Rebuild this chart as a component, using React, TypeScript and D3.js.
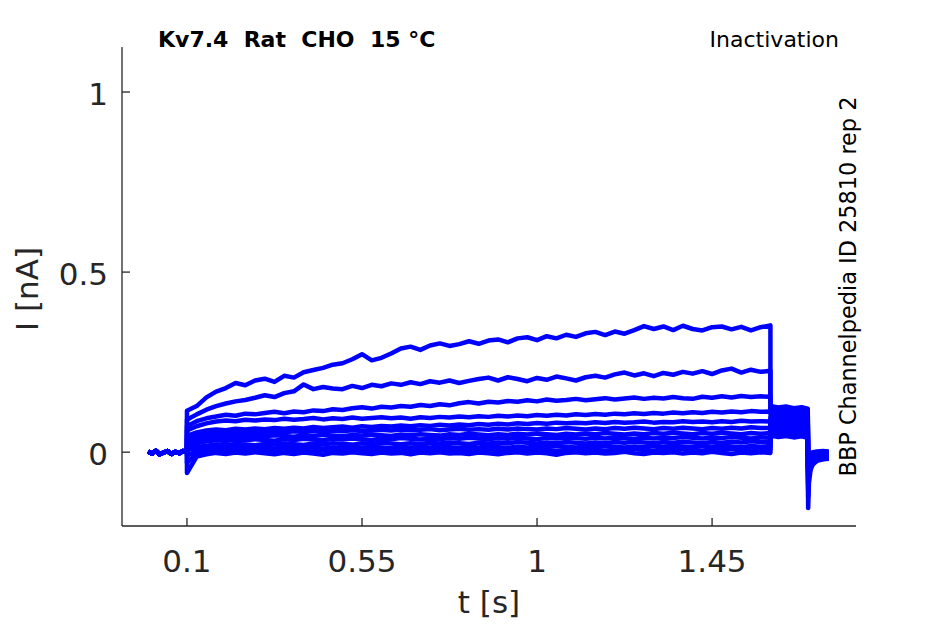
import React from 'react';
import * as d3 from 'd3';

// sampling times [s]
const baselineTimes = [0, 0.01, 0.02, 0.03, 0.04, 0.05, 0.06, 0.07, 0.08, 0.09, 0.1];
const pulseTimes = [
  0.1, 0.125, 0.15, 0.175, 0.2, 0.225, 0.25, 0.275, 0.3, 0.325,
  0.35, 0.375, 0.4, 0.425, 0.45, 0.475, 0.5, 0.525, 0.55, 0.575,
  0.6, 0.625, 0.65, 0.675, 0.7, 0.725, 0.75, 0.775, 0.8, 0.825,
  0.85, 0.875, 0.9, 0.925, 0.95, 0.975, 1.0, 1.025, 1.05, 1.075,
  1.1, 1.125, 1.15, 1.175, 1.2, 1.225, 1.25, 1.275, 1.3, 1.325,
  1.35, 1.375, 1.4, 1.425, 1.45, 1.475, 1.5, 1.525, 1.55, 1.575,
  1.6,
];
const tailTimes = [1.6, 1.62, 1.64, 1.66, 1.68, 1.696, 1.697, 1.699, 1.703, 1.709, 1.72, 1.735, 1.75];

// holding current before the step [nA]
const baselineCurrent = [0.002, -0.004, 0.004, -0.006, -0.001, 0.003, -0.005, 0.001, -0.003, 0.003, 0.0];

// current during the 1.5 s step, one array per sweep [nA]
const sweep1 = [
  0.115, 0.128, 0.152, 0.168, 0.178, 0.192, 0.186, 0.199, 0.204, 0.195,
  0.212, 0.207, 0.222, 0.228, 0.234, 0.243, 0.247, 0.258, 0.272, 0.255,
  0.262, 0.274, 0.288, 0.293, 0.284, 0.296, 0.302, 0.295, 0.3, 0.308,
  0.301, 0.31, 0.313, 0.305, 0.316, 0.319, 0.311, 0.322, 0.316, 0.326,
  0.32, 0.33, 0.334, 0.325, 0.335, 0.329, 0.339, 0.35, 0.342, 0.349,
  0.339, 0.351, 0.342, 0.338, 0.347, 0.349, 0.341, 0.348, 0.338, 0.347,
  0.352,
];
const sweep2 = [
  0.09, 0.105, 0.118, 0.128, 0.135, 0.141, 0.145, 0.151, 0.158, 0.153,
  0.164, 0.169, 0.188, 0.175, 0.181, 0.177, 0.175, 0.184, 0.178, 0.187,
  0.183, 0.191, 0.187, 0.194, 0.189, 0.197, 0.193, 0.199, 0.192, 0.198,
  0.203, 0.207, 0.199, 0.208, 0.203, 0.197, 0.206, 0.201, 0.21, 0.205,
  0.199, 0.208, 0.212, 0.207, 0.216, 0.221, 0.213, 0.219, 0.211, 0.22,
  0.215, 0.223, 0.218, 0.225, 0.217, 0.227, 0.232, 0.221, 0.229, 0.223,
  0.226,
];
const sweep3 = [
  0.072, 0.086, 0.094, 0.099, 0.104, 0.101, 0.107, 0.105, 0.109, 0.112,
  0.108, 0.113, 0.111, 0.116, 0.114, 0.119, 0.117, 0.122, 0.125, 0.121,
  0.126, 0.124, 0.128, 0.126, 0.131, 0.128, 0.133, 0.13, 0.136, 0.139,
  0.135, 0.14, 0.138, 0.142, 0.14, 0.144, 0.141, 0.146, 0.143, 0.145,
  0.148, 0.144, 0.147, 0.15, 0.146, 0.149, 0.152, 0.148, 0.151, 0.149,
  0.153, 0.15, 0.148, 0.154, 0.151, 0.155, 0.152, 0.156, 0.153, 0.155,
  0.154,
];
const sweep4 = [
  0.06, 0.072, 0.08, 0.085, 0.088, 0.086, 0.09, 0.088, 0.091, 0.089,
  0.093, 0.09, 0.092, 0.095, 0.091, 0.094, 0.092, 0.096, 0.093, 0.095,
  0.097, 0.094, 0.096, 0.093, 0.097, 0.095, 0.098, 0.096, 0.099, 0.097,
  0.1, 0.098, 0.101, 0.099, 0.102, 0.1, 0.103, 0.101, 0.104, 0.102,
  0.105, 0.103, 0.106, 0.104, 0.107, 0.105, 0.108, 0.106, 0.109, 0.107,
  0.11, 0.108, 0.111, 0.109, 0.112, 0.11, 0.113, 0.111, 0.114, 0.112,
  0.113,
];
const sweep5 = [
  0.045, 0.055, 0.06, 0.063, 0.061, 0.065, 0.063, 0.066, 0.064, 0.067,
  0.065, 0.068, 0.066, 0.07, 0.067, 0.069, 0.071, 0.068, 0.072, 0.07,
  0.073, 0.071, 0.074, 0.072, 0.075, 0.073, 0.076, 0.074, 0.077, 0.075,
  0.078, 0.076, 0.079, 0.077, 0.08, 0.078, 0.081, 0.079, 0.082, 0.08,
  0.082, 0.08, 0.083, 0.081, 0.084, 0.082, 0.083, 0.085, 0.082, 0.084,
  0.083, 0.086, 0.084, 0.085, 0.083, 0.086, 0.084, 0.087, 0.085, 0.086,
  0.085,
];
const sweep6 = [
  0.035, 0.045, 0.05, 0.053, 0.051, 0.055, 0.053, 0.056, 0.054, 0.057,
  0.055, 0.058, 0.056, 0.059, 0.057, 0.06, 0.058, 0.061, 0.059, 0.06,
  0.062, 0.06, 0.063, 0.061, 0.062, 0.064, 0.061, 0.063, 0.065, 0.062,
  0.064, 0.062, 0.065, 0.063, 0.066, 0.064, 0.063, 0.066, 0.064, 0.067,
  0.065, 0.063, 0.066, 0.064, 0.067, 0.065, 0.068, 0.066, 0.064, 0.067,
  0.065, 0.068, 0.066, 0.064, 0.067, 0.065, 0.068, 0.066, 0.069, 0.067,
  0.067,
];
const sweep7 = [
  0.025, 0.035, 0.04, 0.043, 0.041, 0.045, 0.043, 0.046, 0.044, 0.047,
  0.045, 0.043, 0.047, 0.045, 0.048, 0.046, 0.044, 0.048, 0.046, 0.049,
  0.047, 0.045, 0.049, 0.047, 0.05, 0.048, 0.046, 0.05, 0.048, 0.051,
  0.049, 0.047, 0.05, 0.048, 0.051, 0.049, 0.052, 0.05, 0.048, 0.051,
  0.049, 0.052, 0.05, 0.053, 0.051, 0.049, 0.052, 0.05, 0.053, 0.051,
  0.054, 0.052, 0.05, 0.053, 0.051, 0.054, 0.052, 0.05, 0.053, 0.051,
  0.053,
];
const sweep8 = [
  0.015, 0.025, 0.03, 0.033, 0.031, 0.035, 0.033, 0.036, 0.034, 0.032,
  0.036, 0.034, 0.037, 0.035, 0.033, 0.037, 0.035, 0.038, 0.036, 0.034,
  0.038, 0.036, 0.039, 0.037, 0.035, 0.038, 0.036, 0.039, 0.037, 0.04,
  0.038, 0.036, 0.039, 0.037, 0.04, 0.038, 0.036, 0.04, 0.038, 0.041,
  0.039, 0.037, 0.04, 0.038, 0.041, 0.039, 0.037, 0.04, 0.038, 0.041,
  0.039, 0.042, 0.04, 0.038, 0.041, 0.039, 0.042, 0.04, 0.038, 0.041,
  0.04,
];
const sweep9 = [
  0.005, 0.014, 0.018, 0.021, 0.019, 0.023, 0.021, 0.019, 0.023, 0.021,
  0.024, 0.022, 0.02, 0.024, 0.022, 0.025, 0.023, 0.021, 0.025, 0.023,
  0.026, 0.024, 0.022, 0.025, 0.023, 0.026, 0.024, 0.027, 0.025, 0.023,
  0.026, 0.024, 0.027, 0.025, 0.028, 0.026, 0.024, 0.027, 0.025, 0.028,
  0.026, 0.024, 0.027, 0.025, 0.028, 0.026, 0.029, 0.027, 0.025, 0.028,
  0.026, 0.029, 0.027, 0.025, 0.028, 0.026, 0.029, 0.027, 0.03, 0.028,
  0.028,
];
const sweep10 = [
  -0.01, 0.004, 0.008, 0.011, 0.009, 0.013, 0.011, 0.009, 0.012, 0.01,
  0.013, 0.011, 0.014, 0.012, 0.01, 0.013, 0.011, 0.014, 0.012, 0.015,
  0.013, 0.011, 0.014, 0.012, 0.015, 0.013, 0.016, 0.014, 0.012, 0.015,
  0.013, 0.016, 0.014, 0.012, 0.015, 0.013, 0.016, 0.014, 0.017, 0.015,
  0.013, 0.016, 0.014, 0.017, 0.015, 0.013, 0.016, 0.014, 0.017, 0.015,
  0.018, 0.016, 0.014, 0.017, 0.015, 0.018, 0.016, 0.014, 0.017, 0.015,
  0.017,
];
const sweep11 = [
  -0.03, -0.004, 0.002, 0.004, 0.001, 0.005, 0.003, 0.006, 0.002, 0.005,
  0.003, 0.006, 0.004, 0.001, 0.005, 0.003, 0.007, 0.004, 0.002, 0.006,
  0.004, 0.007, 0.005, 0.002, 0.006, 0.004, 0.007, 0.005, 0.003, 0.006,
  0.004, 0.008, 0.005, 0.003, 0.007, 0.005, 0.008, 0.006, 0.003, 0.007,
  0.005, 0.008, 0.006, 0.004, 0.007, 0.005, 0.009, 0.006, 0.004, 0.008,
  0.006, 0.009, 0.007, 0.004, 0.008, 0.006, 0.009, 0.007, 0.005, 0.008,
  0.008,
];
const sweep12 = [
  -0.058, -0.012, -0.006, -0.002, -0.005, -0.001, -0.004, 0.0, -0.003, -0.006,
  -0.002, -0.005, -0.001, -0.004, -0.007, -0.002, -0.004, 0.0, -0.003, -0.005,
  -0.001, -0.004, -0.002, -0.006, -0.001, -0.003, 0.0, -0.004, -0.002, -0.005,
  -0.001, -0.003, -0.006, -0.002, 0.0, -0.004, -0.001, -0.003, -0.007, -0.002,
  0.0, -0.003, -0.001, -0.004, -0.002, 0.001, -0.003, -0.005, -0.001, -0.002,
  0.0, -0.004, -0.001, -0.003, 0.001, -0.002, -0.005, -0.001, -0.003, 0.0,
  -0.002,
];

// tail at the test pulse and return to holding, one array per sweep [nA]
const tail1 = [0.128, 0.124, 0.127, 0.122, 0.125, 0.121, -0.155, -0.085, -0.05, -0.034, -0.024, -0.02, -0.018];
const tail2 = [0.12, 0.116, 0.119, 0.115, 0.118, 0.114, -0.125, -0.07, -0.045, -0.03, -0.022, -0.019, -0.017];
const tail3 = [0.113, 0.109, 0.112, 0.108, 0.111, 0.107, -0.105, -0.062, -0.04, -0.027, -0.02, -0.017, -0.015];
const tail4 = [0.106, 0.102, 0.105, 0.101, 0.104, 0.1, -0.095, -0.055, -0.036, -0.024, -0.018, -0.015, -0.013];
const tail5 = [0.099, 0.095, 0.098, 0.094, 0.097, 0.093, -0.085, -0.05, -0.032, -0.021, -0.015, -0.013, -0.011];
const tail6 = [0.092, 0.088, 0.091, 0.087, 0.09, 0.086, -0.075, -0.045, -0.028, -0.018, -0.013, -0.011, -0.009];
const tail7 = [0.085, 0.081, 0.084, 0.08, 0.083, 0.079, -0.068, -0.04, -0.024, -0.015, -0.01, -0.009, -0.007];
const tail8 = [0.078, 0.074, 0.077, 0.073, 0.076, 0.072, -0.06, -0.035, -0.02, -0.012, -0.008, -0.006, -0.005];
const tail9 = [0.07, 0.066, 0.069, 0.065, 0.068, 0.064, -0.055, -0.03, -0.016, -0.009, -0.005, -0.004, -0.003];
const tail10 = [0.062, 0.058, 0.061, 0.057, 0.06, 0.056, -0.05, -0.025, -0.012, -0.006, -0.003, -0.002, -0.001];
const tail11 = [0.054, 0.05, 0.053, 0.049, 0.052, 0.048, -0.045, -0.02, -0.008, -0.003, 0.0, 0.001, 0.0];
const tail12 = [0.046, 0.042, 0.045, 0.041, 0.044, 0.04, -0.04, -0.015, -0.004, 0.0, 0.002, 0.003, 0.002];

const sweeps = [sweep1, sweep2, sweep3, sweep4, sweep5, sweep6, sweep7, sweep8, sweep9, sweep10, sweep11, sweep12];
const tails = [tail1, tail2, tail3, tail4, tail5, tail6, tail7, tail8, tail9, tail10, tail11, tail12];

const timeTicks = [0.1, 0.55, 1, 1.45];
const timeTickLabels = ['0.1', '0.55', '1', '1.45'];
const currentTicks = [0, 0.5, 1];
const currentTickLabels = ['0', '0.5', '1'];

const width = 945;
const height = 624;
const axisColor = '#262626';
const font = '"DejaVu Sans", sans-serif';

const App: React.FC = () => {
  const x = d3.scaleLinear().domain([-0.067, 1.82]).range([122, 856]);
  const y = d3.scaleLinear().domain([-0.205, 1.125]).range([526, 47]);

  const line = d3.line<[number, number]>()
    .x(d => x(d[0]))
    .y(d => y(d[1]));

  const traces = sweeps.map((sweep, i) => {
    const pts: [number, number][] = [
      ...baselineTimes.map((t, j) => [t, baselineCurrent[j]] as [number, number]),
      ...pulseTimes.map((t, j) => [t, sweep[j]] as [number, number]),
      ...tailTimes.map((t, j) => [t, tails[i][j]] as [number, number]),
    ];
    return line(pts) || '';
  });

  const [x0, x1] = x.range();
  const [y0, y1] = y.range();

  return (
    <svg width={width} height={height}
      style={{ position: 'absolute', left: 0, top: 0, background: '#fff', fontFamily: font }}>
      {/* current sweeps */}
      <g fill="none" stroke="#0000ff" strokeWidth={4.5} strokeLinejoin="round">
        {traces.map((d, i) => <path key={i} d={d} />)}
      </g>

      {/* axes */}
      <g stroke={axisColor} strokeWidth={1.3} fill="none">
        <line x1={x0} x2={x0} y1={y1} y2={y0} />
        <line x1={x0} x2={x1} y1={y0} y2={y0} />
        {currentTicks.map(v => (
          <line key={v} x1={x0} x2={x0 + 8} y1={y(v)} y2={y(v)} />
        ))}
        {timeTicks.map(v => (
          <line key={v} x1={x(v)} x2={x(v)} y1={y0} y2={y0 - 8} />
        ))}
      </g>

      <g fill={axisColor} fontSize={31}>
        {currentTicks.map((v, i) => (
          <text key={v} x={108} y={y(v) + 13} textAnchor="end">{currentTickLabels[i]}</text>
        ))}
        {timeTicks.map((v, i) => (
          <text key={v} x={x(v)} y={572} textAnchor="middle">{timeTickLabels[i]}</text>
        ))}
        <text x={(x0 + x1) / 2} y={613} textAnchor="middle">t [s]</text>
        <text transform="translate(38,289) rotate(-90)" textAnchor="middle">I [nA]</text>
      </g>

      <text x={158} y={47} fontSize={22} fontWeight="bold" fill="#000"
        style={{ whiteSpace: 'pre' }}>{'Kv7.4  Rat  CHO  15 °C'}</text>
      <text x={839} y={47} fontSize={22} textAnchor="end" fill="#000">Inactivation</text>
      <text transform="translate(856,286.5) rotate(-90)" fontSize={22.4} textAnchor="middle" fill="#000">
        BBP Channelpedia ID 25810 rep 2
      </text>
    </svg>
  );
};

export default App;
